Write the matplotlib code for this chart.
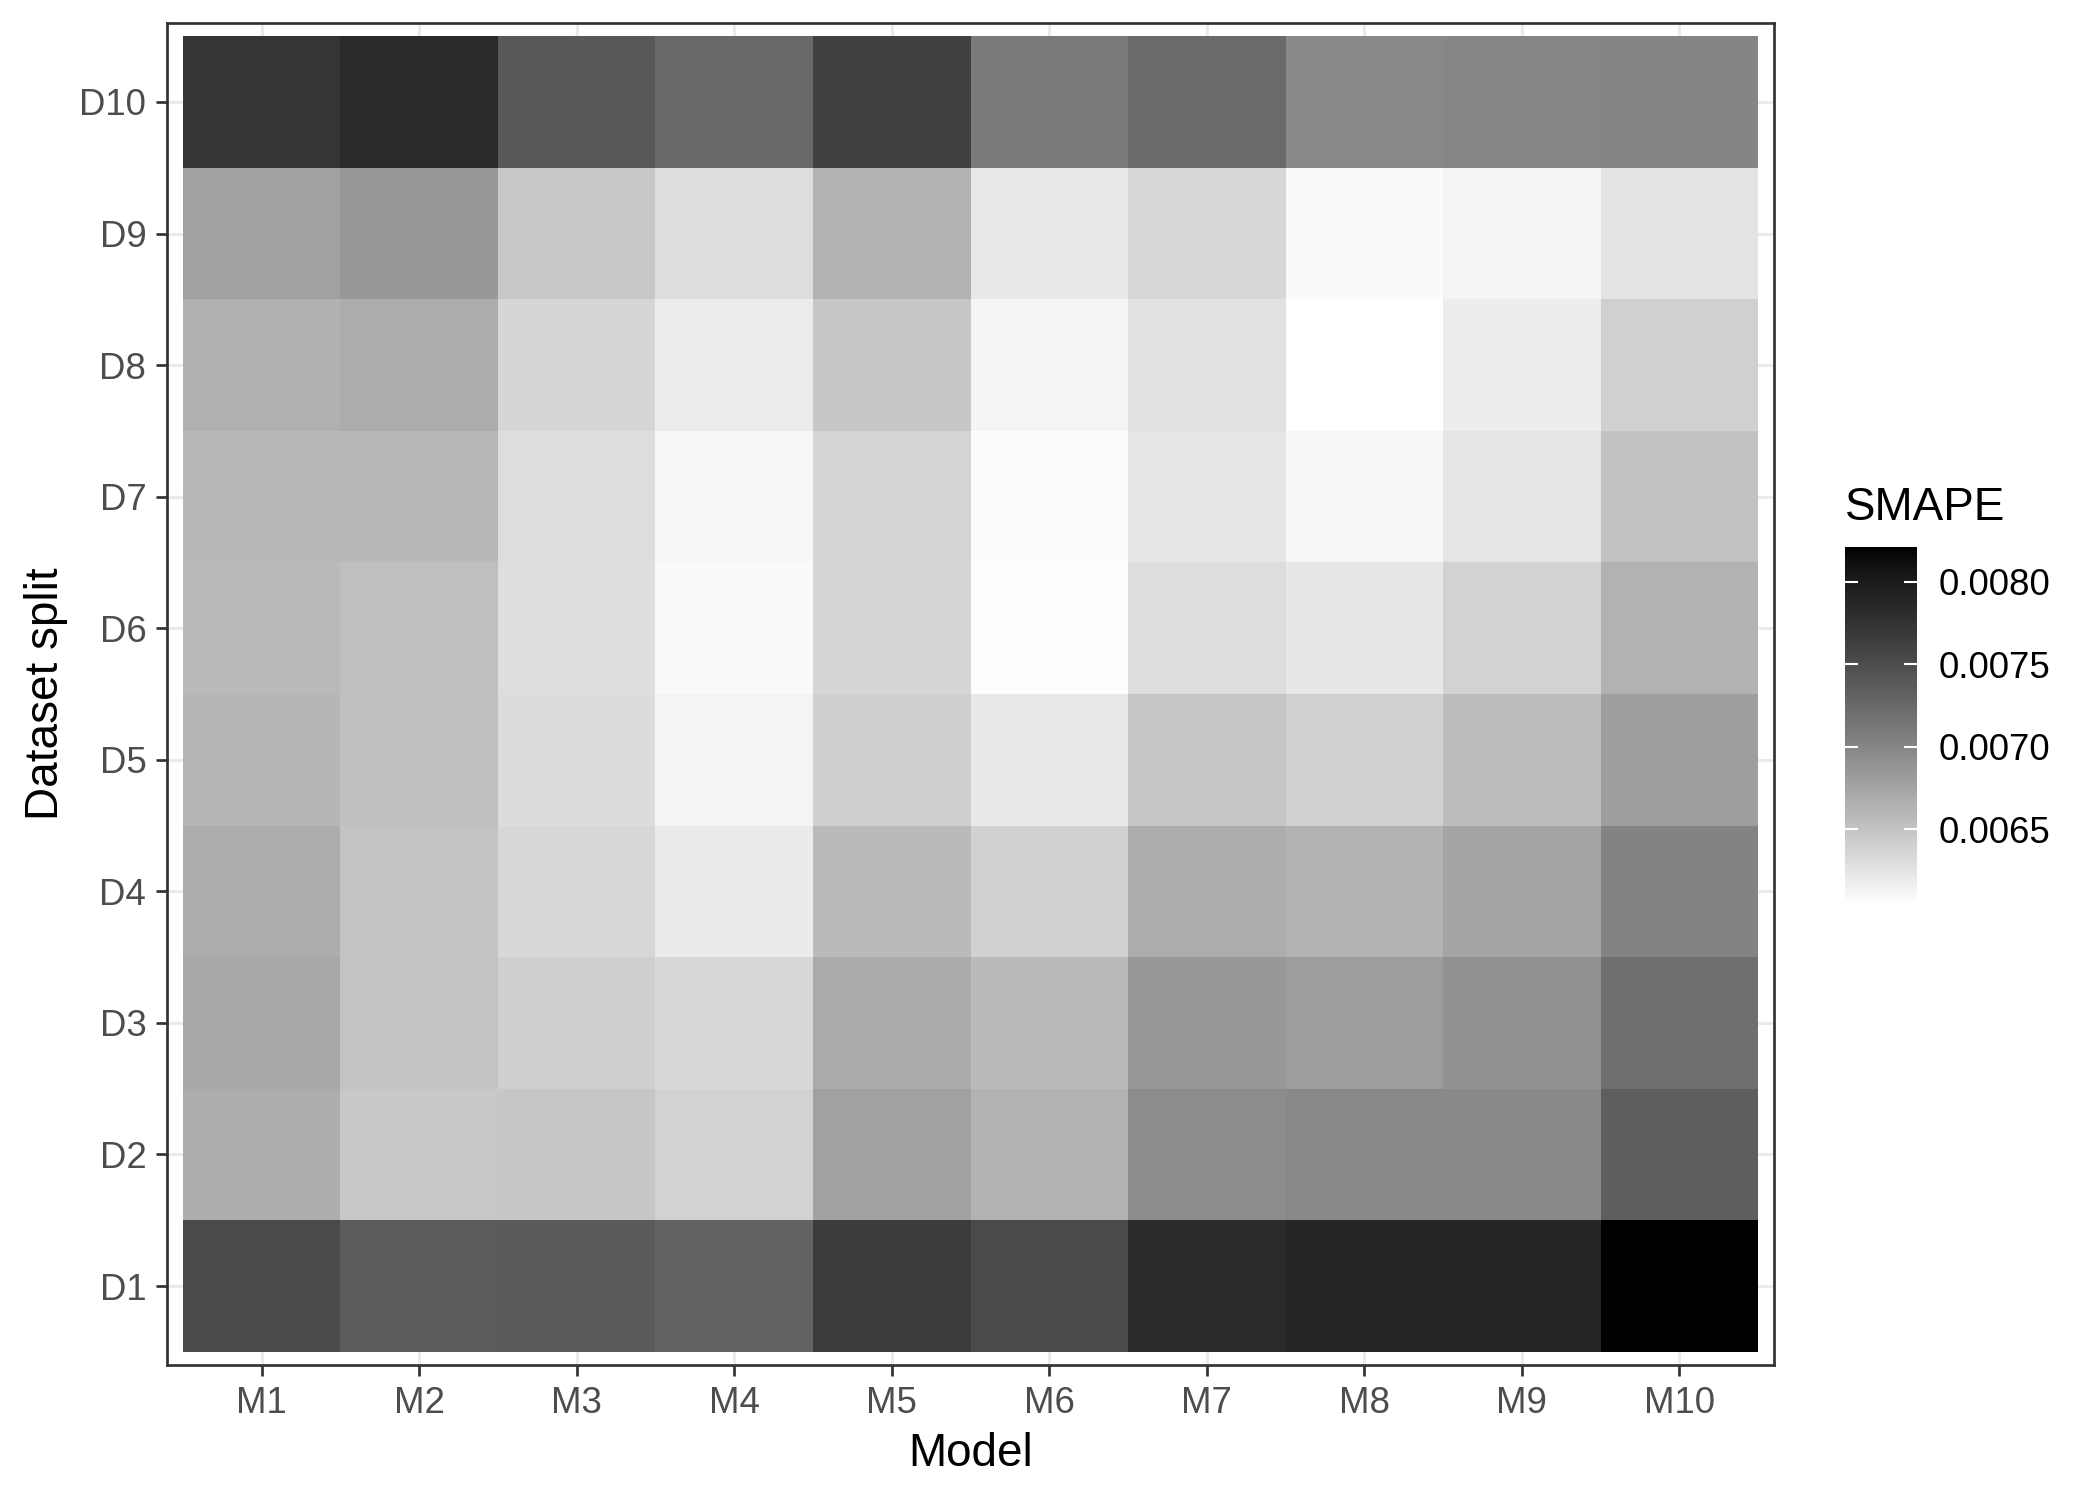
import numpy as np
import matplotlib
matplotlib.use("Agg")
import matplotlib.pyplot as plt
from matplotlib.colors import ListedColormap

plt.rcParams['font.family'] = ['Liberation Sans', 'DejaVu Sans']

models = [f"M{i}" for i in range(1, 11)]
splits = [f"D{i}" for i in range(1, 11)]

# SMAPE per dataset split (rows D1..D10) and model (columns M1..M10)
d1 = [0.00753, 0.00736, 0.00738, 0.00730, 0.00766, 0.00753, 0.00784, 0.00788, 0.00788, 0.00821]
d2 = [0.00668, 0.00646, 0.00648, 0.00638, 0.00677, 0.00664, 0.00694, 0.00697, 0.00697, 0.00734]
d3 = [0.00671, 0.00650, 0.00641, 0.00634, 0.00670, 0.00657, 0.00685, 0.00681, 0.00690, 0.00720]
d4 = [0.00668, 0.00650, 0.00635, 0.00620, 0.00657, 0.00639, 0.00668, 0.00663, 0.00674, 0.00702]
d5 = [0.00660, 0.00653, 0.00631, 0.00613, 0.00641, 0.00621, 0.00648, 0.00640, 0.00656, 0.00680]
d6 = [0.00657, 0.00654, 0.00629, 0.00609, 0.00636, 0.00606, 0.00630, 0.00622, 0.00638, 0.00664]
d7 = [0.00659, 0.00659, 0.00630, 0.00611, 0.00637, 0.00607, 0.00624, 0.00611, 0.00624, 0.00651]
d8 = [0.00665, 0.00669, 0.00636, 0.00619, 0.00647, 0.00612, 0.00627, 0.00604, 0.00618, 0.00640]
d9 = [0.00677, 0.00685, 0.00646, 0.00630, 0.00664, 0.00621, 0.00635, 0.00608, 0.00613, 0.00626]
d10 = [0.00772, 0.00783, 0.00740, 0.00725, 0.00761, 0.00710, 0.00724, 0.00697, 0.00699, 0.00700]

cbar_ticks = [0.0065, 0.0070, 0.0075, 0.0080]

smape = np.array([d1, d2, d3, d4, d5, d6, d7, d8, d9, d10])


# white -> black gradient, linear in CIE L* (like ggplot's scale_fill_gradient)
def lab_grey(L):
    Y = ((L + 16) / 116) ** 3 if L > 8 else L / 903.3
    return 1.055 * Y ** (1 / 2.4) - 0.055 if Y > 0.0031308 else 12.92 * Y


greys = [lab_grey(L) for L in np.linspace(100, 0, 256)]
cmap = ListedColormap([(g, g, g) for g in greys])

fig = plt.figure(figsize=(7, 1499 / 300), dpi=300)
ax = fig.add_axes([167 / 2100, 1 - 1365 / 1499, 1607 / 2100, 1342 / 1499])

x_edges = np.arange(0.5, len(models) + 1)
y_edges = np.arange(0.5, len(splits) + 1)
mesh = ax.pcolormesh(x_edges, y_edges, smape, cmap=cmap,
                     vmin=smape.min(), vmax=smape.max(),
                     edgecolors='face', linewidth=0, antialiased=False)

ax.set_xlim(0.4, len(models) + 0.6)
ax.set_ylim(0.4, len(splits) + 0.6)
ax.set_xticks(np.arange(1, len(models) + 1), models)
ax.set_yticks(np.arange(1, len(splits) + 1), splits)
ax.set_axisbelow(True)
ax.grid(True, color='#EBEBEB', linewidth=0.75)
for sp in ax.spines.values():
    sp.set_color('#333333')
    sp.set_linewidth(0.65)
ax.tick_params(length=2.75, width=0.65, color='#333333', pad=2.2,
               labelsize=8.8, labelcolor='#4D4D4D')
ax.set_xlabel('Model', fontsize=11, labelpad=2.75)
ax.set_ylabel('Dataset split', fontsize=11, labelpad=2.75)

# colour bar legend
cax = fig.add_axes([1845 / 2100, 1 - 905 / 1499, 72 / 2100, 358 / 1499])
cb = fig.colorbar(mesh, cax=cax, ticks=cbar_ticks, format='%.4f')
cb.outline.set_visible(False)
cax.minorticks_off()
cax.tick_params(direction='in', color='white', length=3.1, width=0.5,
                left=True, right=True, labelleft=False, labelright=True,
                labelsize=8.8, pad=5.3, labelcolor='black')
fig.text(1845 / 2100, 1 - 520 / 1499, 'SMAPE', fontsize=11,
         ha='left', va='baseline')

fig.savefig('out.png', dpi=300)
